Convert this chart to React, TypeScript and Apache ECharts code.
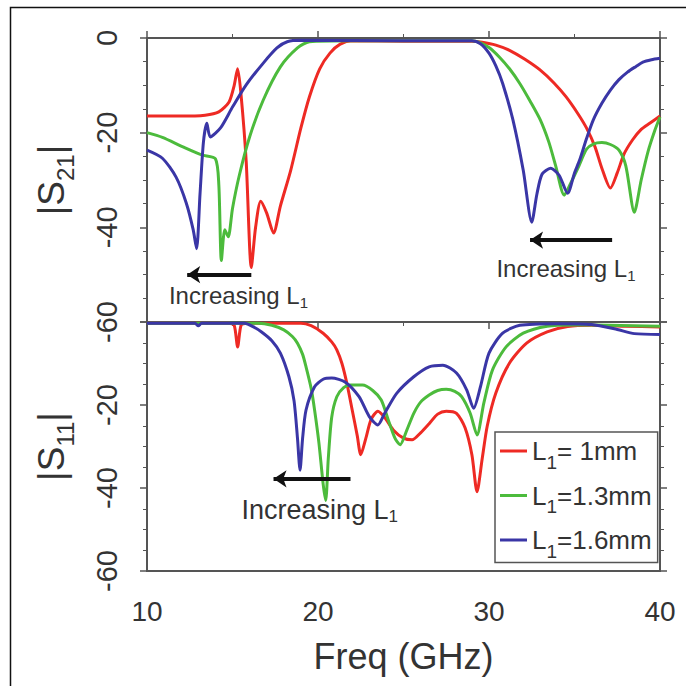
import React, { useEffect, useRef } from "react";
import * as echarts from "echarts";

// ---- data (frequency GHz, dB) ----
const xTicks = [10, 20, 30, 40];
const legendNames = ["L1= 1mm", "L1=1.3mm", "L1=1.6mm"];
const colors = ["#ee2a24", "#4cbb3c", "#3a36a6"];

const s21Red: number[][] = [
  [10, -16.5], [12, -16.5], [13.4, -16.3], [14.2, -15.6], [14.8, -13.5], [15.1, -10], [15.3, -6.5],
  [15.5, -12], [15.8, -26], [16.1, -48.5], [16.35, -40], [16.65, -34.5], [17.0, -37], [17.4, -41.2],
  [17.8, -35.5], [18.4, -28], [19.0, -19], [19.5, -12.4], [20.1, -6.5], [20.7, -3.2], [21.3, -1.3],
  [22, -0.6], [25, -0.7], [29, -0.7], [29.6, -0.9], [30.4, -1.5], [31.2, -2.6], [32.1, -4.5],
  [33.0, -6.8], [33.8, -9.5], [34.5, -12.4], [35.2, -16], [35.7, -19], [36.2, -23], [36.6, -27.5],
  [37.1, -31.7], [37.5, -28.5], [37.9, -24.5], [38.4, -21.5], [38.9, -19.3], [39.4, -18], [40, -16.5],
];
const s21Green: number[][] = [
  [10, -20], [10.9, -21], [12.1, -23], [13.2, -24.7], [14.0, -25.5], [14.2, -31], [14.35, -47],
  [14.55, -40.5], [14.75, -42], [15.0, -36], [15.4, -29], [16.0, -20.9], [16.8, -13.1], [17.8, -6.1],
  [18.8, -2.1], [19.5, -0.8], [22, -0.6], [29, -0.6], [29.4, -0.9], [30.0, -2], [30.6, -4.0],
  [31.2, -6.5], [31.8, -9.6], [32.4, -13.3], [33.0, -17.3], [33.5, -22], [33.9, -27], [34.4, -33.2],
  [34.8, -30.5], [35.2, -27.5], [35.7, -23.5], [36.1, -22.4], [36.6, -22.1], [37.1, -22.5],
  [37.6, -23.7], [38.0, -27], [38.5, -36.8], [38.9, -30], [39.3, -24], [39.7, -19.5], [40, -16.7],
];
const s21Blue: number[][] = [
  [10, -23.7], [10.9, -25.4], [11.7, -29.4], [12.3, -34.9], [12.7, -40.5], [12.9, -44.5], [13.1, -33],
  [13.3, -22], [13.5, -18], [13.7, -20.9], [14.3, -19], [15.0, -14.6], [15.8, -9.9], [16.8, -5.3],
  [17.6, -2.1], [18.2, -0.8], [19, -0.5], [25, -0.6], [29.0, -0.6], [29.5, -1.2], [30.0, -3.2],
  [30.4, -5.9], [30.8, -9.6], [31.4, -17.3], [32.0, -27.9], [32.5, -38.9], [32.8, -33], [33.1, -28.8],
  [33.6, -27.5], [34.1, -29], [34.6, -32.8], [35.0, -28.5], [35.3, -25.8], [35.7, -21.3], [36.1, -17.3],
  [36.6, -13.8], [37.1, -11], [37.6, -8.8], [38.1, -7.2], [38.6, -6], [39.0, -5.1], [39.5, -4.6], [40, -4.3],
];

const s11Red: number[][] = [
  [10, -0.3], [14.8, -0.3], [15.1, -0.8], [15.3, -6], [15.5, -0.8], [15.8, -0.3], [19.0, -0.3],
  [19.6, -0.9], [20.3, -2.7], [20.8, -4.8], [21.1, -6.7], [21.4, -10], [21.7, -15], [22.0, -21.2],
  [22.3, -27.5], [22.5, -32], [22.8, -28], [23.1, -23.5], [23.5, -21.5], [23.9, -23], [24.4, -26],
  [25.0, -28], [25.5, -28.4], [26.0, -26.7], [26.5, -24.5], [27.0, -22.2], [27.5, -21.5], [28.1, -22],
  [28.6, -25.5], [29.0, -32], [29.3, -40.9], [29.6, -33], [29.9, -25], [30.4, -17.1], [31.2, -9.9],
  [32.2, -5.1], [33.4, -2.4], [34.6, -1.1], [36, -0.8], [38, -1], [40, -1.2],
];
const s11Green: number[][] = [
  [10, -0.3], [16.5, -0.3], [17.3, -0.8], [18.0, -1.9], [18.5, -3.5], [18.8, -5.1], [19.1, -7.8],
  [19.3, -10.8], [19.6, -16], [19.8, -21.2], [20.05, -29], [20.3, -39], [20.45, -43], [20.6, -33],
  [20.8, -23], [21.1, -18], [21.5, -15.8], [21.9, -15.2], [22.6, -15.2], [23.2, -16.5], [23.7, -18.8],
  [24.1, -23.5], [24.5, -28], [24.8, -29.6], [25.2, -26], [25.6, -22], [26.0, -19.3], [26.5, -17.6],
  [27.0, -16.5], [27.5, -16.2], [28.0, -16.7], [28.4, -18], [28.9, -22], [29.3, -27.2], [29.7, -19.5],
  [30.2, -11.6], [31.0, -6], [32.0, -2.7], [33.4, -1], [35, -0.7], [37, -0.8], [40, -1],
];
const s11Blue: number[][] = [
  [10, -0.3], [12.8, -0.3], [13.0, -0.9], [13.2, -0.3], [15.7, -0.3], [16.2, -1.1], [16.7, -2.4],
  [17.3, -4.5], [17.8, -7.5], [18.3, -13.2], [18.6, -19], [18.8, -28], [18.95, -35.7], [19.1, -28],
  [19.3, -21.2], [19.8, -15.6], [20.3, -13.8], [20.8, -13.5], [21.6, -14.5], [22.4, -18], [23.0, -22.8],
  [23.5, -24.8], [23.9, -22], [24.6, -17.2], [25.6, -13.2], [26.5, -10.8], [27.3, -10.4], [28.1, -12.3],
  [28.7, -16.4], [29.1, -20.8], [29.5, -15.6], [30.0, -7.5], [30.8, -2.7], [31.8, -0.8], [34, -0.4],
  [36, -0.6], [37.5, -1.8], [38.5, -2.8], [40, -3],
];

// annotation anchors in data coordinates: [fromF, toF, dB] and text [f, dB]
const arrowTopLeft = [12.35, 16.1, -50];
const textTopLeft = [15.35, -54.3];
const arrowTopRight = [32.4, 37.2, -42.7];
const textTopRight = [34.5, -48.6];
const arrowBottom = [17.4, 21.9, -37.8];
const textBottom = [20.1, -45.3];

const FONT = "'Liberation Sans', Arial, Helvetica, sans-serif";
const TXT = "#333";
const FRAME = "#555";

export default function App() {
  const ref = useRef<HTMLDivElement>(null);
  useEffect(() => {
    if (!ref.current) return;
    const chart = echarts.init(ref.current, null, { renderer: "svg" });

    // subscript: padding on top shifts the glyphs down by half the padding
    const subRich = (size: number, drop: number) => ({
      sub: { fontSize: size, padding: [drop * 2, 0, 0, 0], color: TXT, fontFamily: FONT },
    });

    const tickCommon = {
      axisLine: { show: false },
      axisTick: { show: true, inside: false, length: 7, lineStyle: { color: FRAME, width: 1.5 } },
      minorTick: { show: true, splitNumber: 4, length: 4, lineStyle: { color: FRAME, width: 1 } },
      splitLine: { show: false },
      minorSplitLine: { show: false },
    };

    const yLeft = (grid: number, showMax: boolean, name: string) => ({
      type: "value",
      gridIndex: grid,
      position: "left",
      min: -60,
      max: 0,
      interval: 20,
      ...tickCommon,
      axisLabel: {
        show: true,
        rotate: 90,
        margin: 26,
        fontSize: 29,
        color: TXT,
        fontFamily: FONT,
        showMaxLabel: showMax,
      },
      name,
      nameLocation: "middle",
      nameGap: 70,
      nameRotate: 90,
      nameTextStyle: { fontSize: 37, color: TXT, fontFamily: FONT, rich: subRich(24, 14) },
    });
    const yRight = (grid: number) => ({
      type: "value",
      gridIndex: grid,
      position: "right",
      min: -60,
      max: 0,
      interval: 20,
      ...tickCommon,
      axisLabel: { show: false },
    });

    const annotText = (pt: number[], size: number) => ({
      symbol: "rect",
      symbolSize: 1,
      silent: true,
      itemStyle: { color: "rgba(0,0,0,0)" },
      label: {
        show: true,
        position: "inside",
        fontSize: size,
        color: TXT,
        fontFamily: FONT,
        formatter: "Increasing L{sub|1}",
        rich: subRich(Math.round(size * 0.62), 7),
      },
      data: [{ coord: pt }],
    });
    const annotArrow = (a: number[]) => ({
      silent: true,
      symbol: ["arrow", "none"],
      symbolSize: [13, 13],
      lineStyle: { color: "#111", width: 4, type: "solid" },
      label: { show: false },
      emphasis: { disabled: true },
      data: [[{ coord: [a[0], a[2]] }, { coord: [a[1], a[2]] }]],
    });

    const mk = (name: string, data: number[][], color: string, grid: number, extra: any = {}) => ({
      type: "line",
      name,
      data,
      xAxisIndex: grid,
      yAxisIndex: grid * 2,
      showSymbol: false,
      smooth: 0.25,
      color,
      lineStyle: { color, width: 3 },
      emphasis: { disabled: true },
      z: 3,
      ...extra,
    });

    chart.setOption({
      animation: false,
      backgroundColor: "#ffffff",
      textStyle: { fontFamily: FONT },
      graphic: [
        {
          type: "rect",
          shape: { x: 10.5, y: 7.5, width: 700, height: 700 },
          style: { fill: "none", stroke: "#111", lineWidth: 1.5 },
          silent: true,
        },
      ],
      grid: [
        { left: 147, top: 38, width: 513, height: 284, show: true, borderColor: FRAME, borderWidth: 2, backgroundColor: "transparent" },
        { left: 147, top: 322, width: 513, height: 249, show: true, borderColor: FRAME, borderWidth: 2, backgroundColor: "transparent" },
      ],
      xAxis: [
        {
          type: "value",
          gridIndex: 0,
          position: "top",
          min: 10,
          max: 40,
          interval: 10,
          ...tickCommon,
          minorTick: { show: true, splitNumber: 2, length: 4, lineStyle: { color: FRAME, width: 1 } },
          axisLabel: { show: false },
        },
        {
          type: "value",
          gridIndex: 1,
          position: "bottom",
          min: 10,
          max: 40,
          interval: 10,
          ...tickCommon,
          minorTick: { show: true, splitNumber: 2, length: 4, lineStyle: { color: FRAME, width: 1 } },
          axisLabel: {
            show: true,
            margin: 26,
            fontSize: 28,
            color: TXT,
            fontFamily: FONT,
            formatter: (v: number) => (xTicks.includes(v) ? String(v) : ""),
          },
          name: "Freq (GHz)",
          nameLocation: "middle",
          nameGap: 67,
          nameTextStyle: { fontSize: 36, color: TXT, fontFamily: FONT },
        },
      ],
      yAxis: [
        yLeft(0, true, "|S{sub|21}|"),
        yRight(0),
        yLeft(1, false, "|S{sub|11}|"),
        yRight(1),
      ],
      legend: {
        data: legendNames,
        orient: "vertical",
        left: 495,
        top: 432,
        padding: [6, 6, 2, 5],
        itemGap: 11,
        itemWidth: 27,
        itemHeight: 3,
        icon: "rect",
        borderColor: FRAME,
        borderWidth: 1.5,
        backgroundColor: "#ffffff",
        selectedMode: false,
        formatter: (n: string) => n.replace("L1", "L{sub|1}"),
        textStyle: {
          fontSize: 26,
          color: TXT,
          fontFamily: FONT,
          rich: subRich(19, 11),
        },
      },
      series: [
        mk(legendNames[0], s21Red, colors[0], 0),
        mk(legendNames[1], s21Green, colors[1], 0),
        mk(legendNames[2], s21Blue, colors[2], 0, {
          markLine: annotArrow(arrowTopLeft),
          markPoint: annotText(textTopLeft, 24),
        }),
        mk(legendNames[0], s11Red, colors[0], 1, {
          markLine: annotArrow(arrowBottom),
          markPoint: annotText(textBottom, 27),
        }),
        mk(legendNames[1], s11Green, colors[1], 1),
        mk(legendNames[2], s11Blue, colors[2], 1),
        {
          type: "line",
          name: "annot",
          data: [],
          xAxisIndex: 0,
          yAxisIndex: 0,
          markLine: annotArrow(arrowTopRight),
          markPoint: annotText(textTopRight, 24),
        },
      ],
    });
    return () => chart.dispose();
  }, []);

  return (
    <div
      ref={ref}
      style={{ position: "absolute", left: 0, top: 0, width: 686, height: 686 }}
    />
  );
}
